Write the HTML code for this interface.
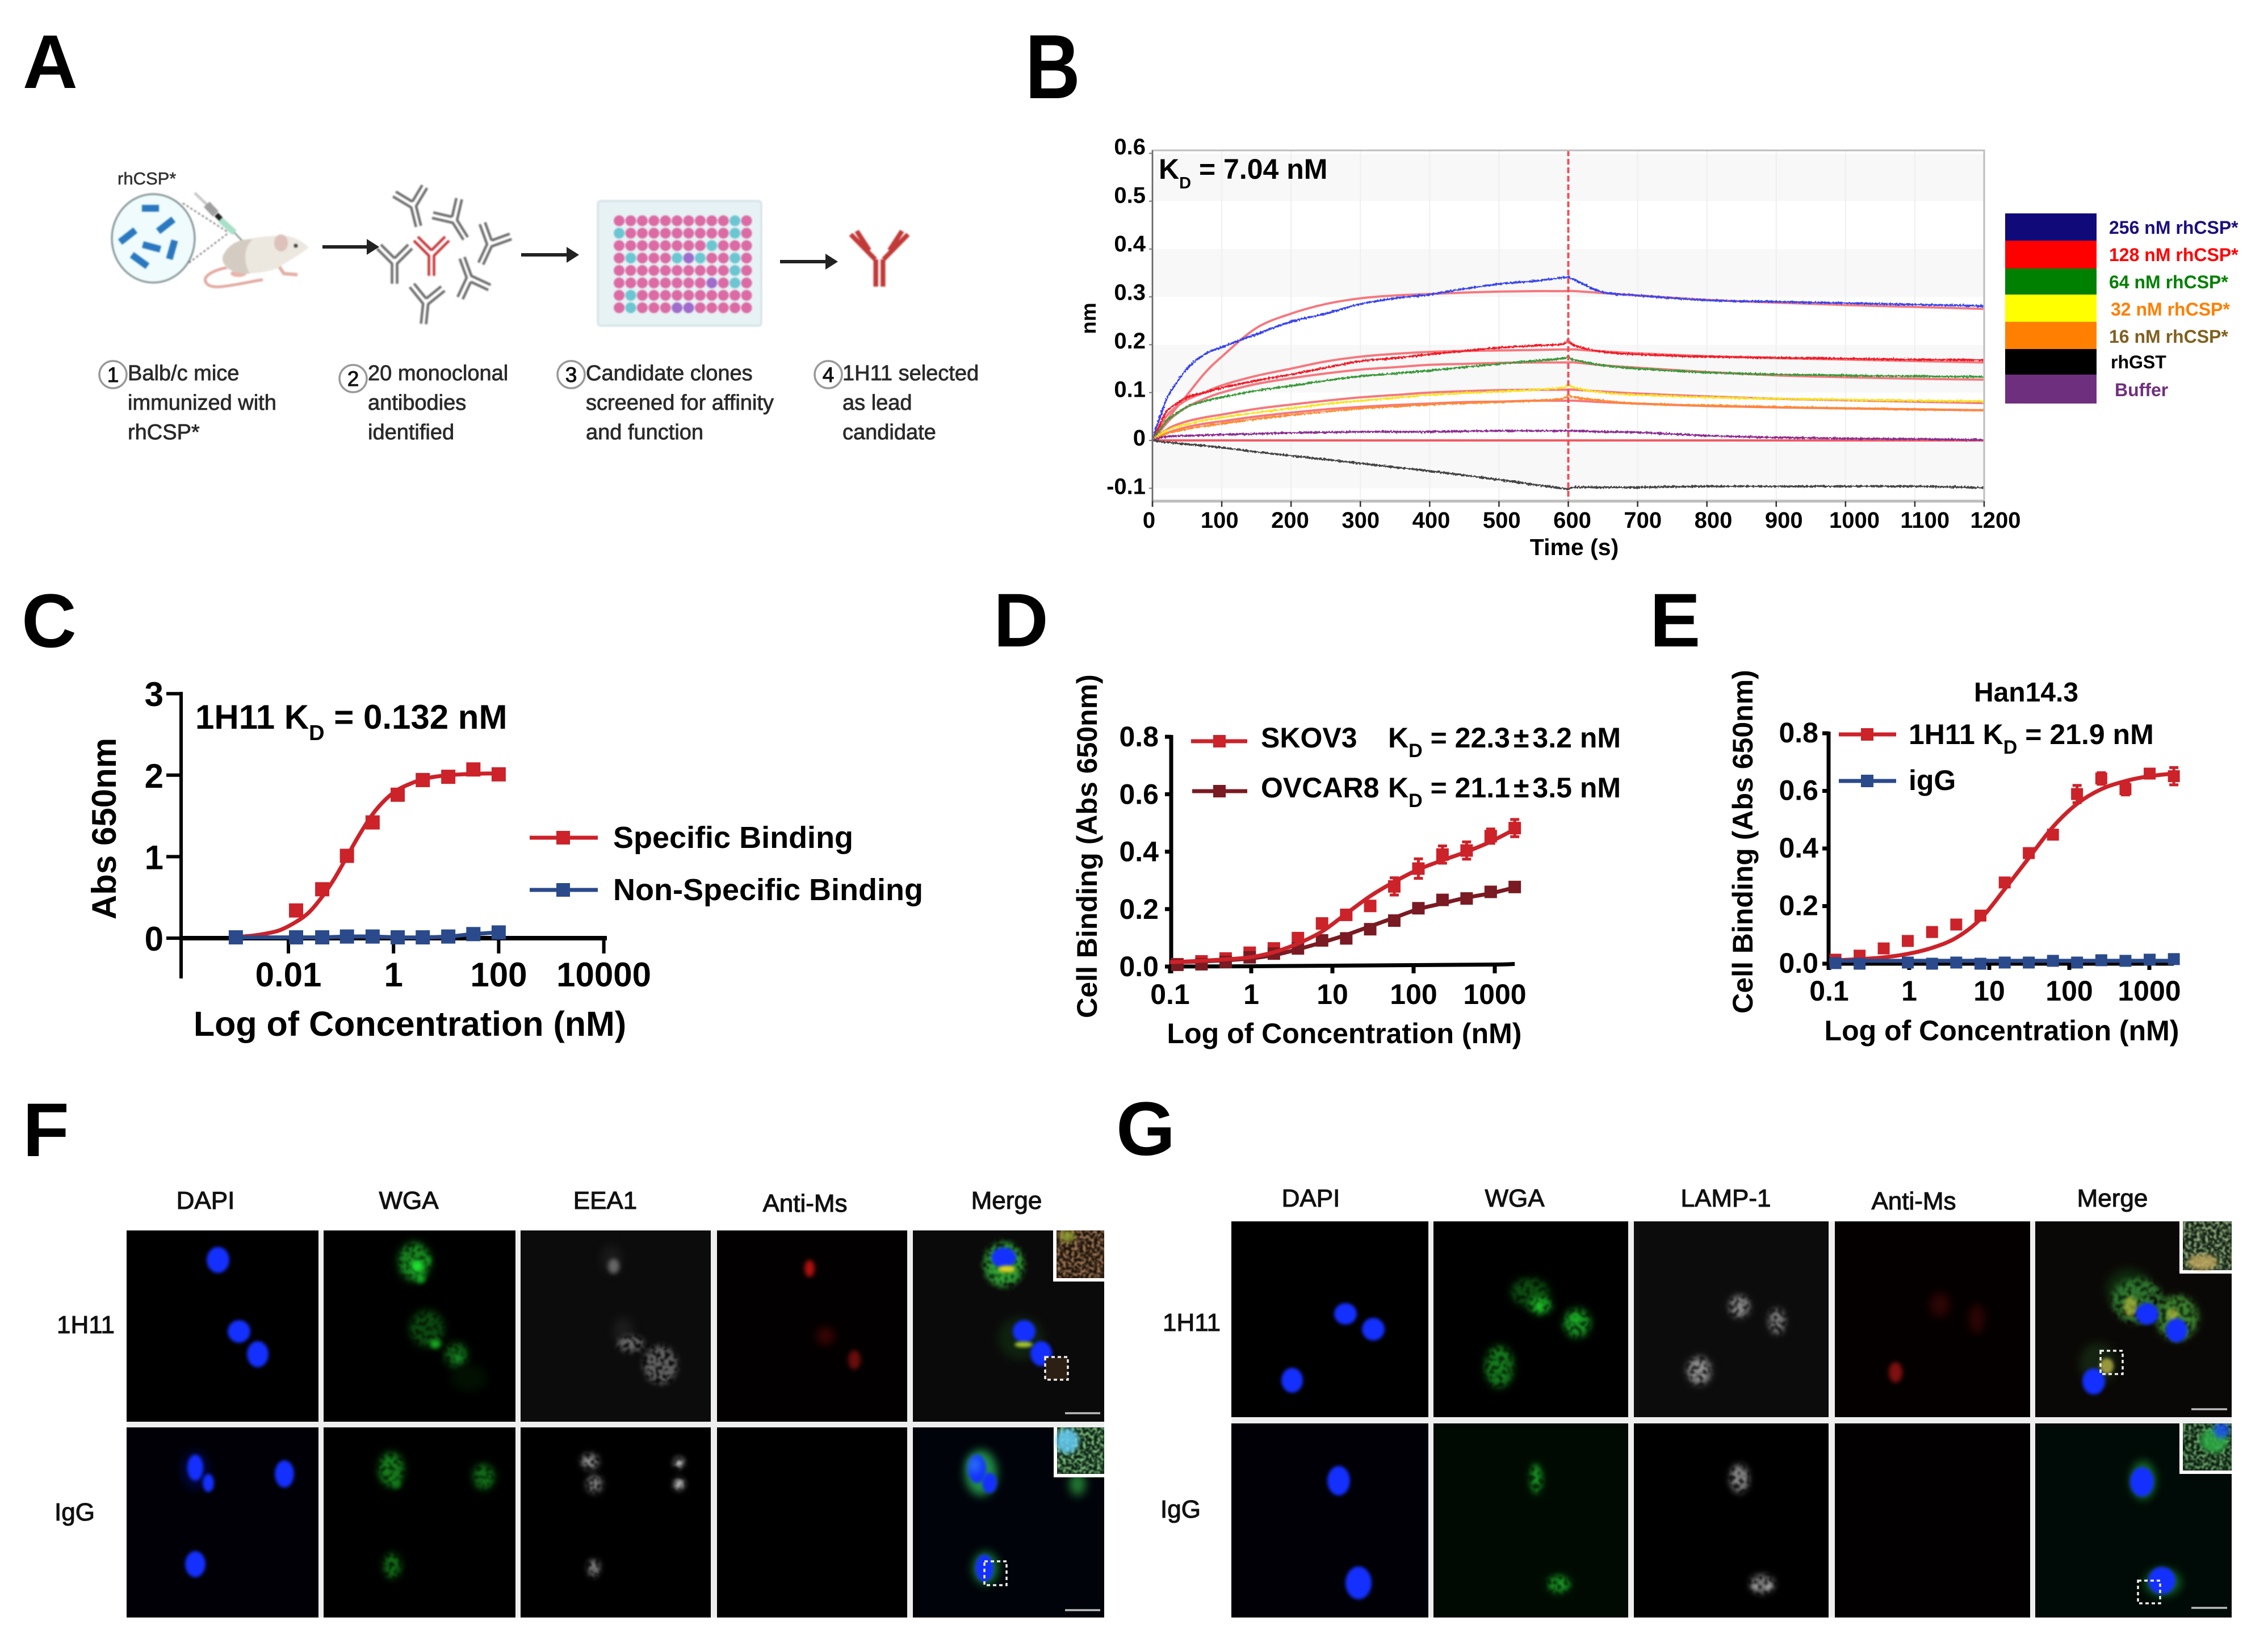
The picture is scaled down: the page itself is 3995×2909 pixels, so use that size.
<!DOCTYPE html>
<html lang="en">
<head>
<meta charset="utf-8">
<title>1H11 antibody binding figure</title>
<style>
html,body{margin:0;padding:0;background:#fff;}
svg{display:block;}
text{font-family:"Liberation Sans",sans-serif;}
.b{font-weight:700;fill:#000;}
.lt{font-size:134px;font-weight:700;fill:#000;}
.st{font-size:38px;fill:#2a2a2a;stroke:#2a2a2a;stroke-width:.8px;}
.m{font-size:44px;fill:#111;stroke:#111;stroke-width:1.1px;}
</style>
</head>
<body>
<svg id="fig" xmlns="http://www.w3.org/2000/svg" width="3995" height="2909" viewBox="0 0 3995 2909">
<defs>
<filter id="soft" x="-80%" y="-80%" width="260%" height="260%" color-interpolation-filters="sRGB"><feGaussianBlur stdDeviation="8"/></filter>
<filter id="spotblur" x="-80%" y="-80%" width="260%" height="260%" color-interpolation-filters="sRGB"><feGaussianBlur stdDeviation="4"/></filter>
<filter id="nuc" x="-50%" y="-50%" width="200%" height="200%" color-interpolation-filters="sRGB"><feGaussianBlur stdDeviation="3"/></filter>
<filter id="lowres" x="-5%" y="-5%" width="110%" height="110%" color-interpolation-filters="sRGB"><feGaussianBlur stdDeviation="1.2"/></filter>
<filter id="speck" x="-80%" y="-80%" width="260%" height="260%" color-interpolation-filters="sRGB">
<feGaussianBlur in="SourceGraphic" stdDeviation="5" result="b"/>
<feTurbulence type="fractalNoise" baseFrequency=".13" numOctaves="2" seed="7"/>
<feColorMatrix type="matrix" values="0 0 0 0 0 0 0 0 0 0 0 0 0 0 0 0 0 0 5 -1.7" result="m"/>
<feComposite in="b" in2="m" operator="in"/>
<feGaussianBlur stdDeviation="1.6"/>
</filter>
<filter id="grain" x="0" y="0" width="100%" height="100%" color-interpolation-filters="sRGB">
<feTurbulence type="fractalNoise" baseFrequency=".2" numOctaves="2" seed="4"/>
<feColorMatrix type="matrix" values="0 0 0 0 0 0 0 0 0 0 0 0 0 0 0 0 0 0 5 -2.2" result="m"/>
<feComposite in="SourceGraphic" in2="m" operator="in"/>
<feGaussianBlur stdDeviation="1.2"/>
</filter>
<filter id="jitter" filterUnits="userSpaceOnUse" x="2000" y="240" width="1540" height="680" color-interpolation-filters="sRGB">
<feTurbulence type="fractalNoise" baseFrequency=".35" numOctaves="1" seed="2" result="n"/>
<feDisplacementMap in="SourceGraphic" in2="n" scale="6" xChannelSelector="R" yChannelSelector="G"/>
</filter>
<g id="ab" fill="none" stroke-width="4.5">
<line x1="-4.5" y1="38" x2="-4.5" y2="2"/><line x1="4.5" y1="38" x2="4.5" y2="2"/>
<line x1="-4" y1="3" x2="-31" y2="-24"/><line x1="4" y1="3" x2="31" y2="-24"/>
<line x1="0" y1="-7" x2="-24" y2="-31"/><line x1="0" y1="-7" x2="24" y2="-31"/>
</g>
<g id="abLarge" fill="none" stroke-width="8" stroke-linecap="butt">
<line x1="-6" y1="52" x2="-6" y2="4"/><line x1="6" y1="52" x2="6" y2="4"/>
<line x1="-7" y1="4" x2="-48" y2="-40"/><line x1="7" y1="4" x2="48" y2="-40"/>
<line x1="-17" y1="-12" x2="-38" y2="-46"/><line x1="17" y1="-12" x2="38" y2="-46"/>
</g>
</defs>

<!-- panel letters -->
<text class="lt" x="40" y="155">A</text>
<text class="lt" transform="translate(1806,173) scale(1,1.2)">B</text>
<text class="lt" x="38" y="1140">C</text>
<text class="lt" x="1750" y="1139">D</text>
<text class="lt" x="2906" y="1139">E</text>
<text class="lt" x="40" y="2037">F</text>
<text class="lt" x="1966" y="2035">G</text>

<!-- Panel A -->
<g id="panelA">
<text x="207" y="325" font-size="31" fill="#333" stroke="#333" stroke-width=".6">rhCSP*</text>
<g filter="url(#lowres)">
<line x1="322" y1="358" x2="403" y2="410" stroke="#777" stroke-width="2.5" stroke-dasharray="4 4"/>
<line x1="333" y1="463" x2="403" y2="410" stroke="#777" stroke-width="2.5" stroke-dasharray="4 4"/>
<ellipse cx="270" cy="420" rx="73" ry="78" fill="#effbfc" stroke="#7e8e90" stroke-width="3"/>
<g fill="#2a78c0">
<rect x="250" y="361" width="30" height="12"/>
<rect x="275" y="391" width="34" height="12" transform="rotate(-38 292 397)"/>
<rect x="208" y="410" width="34" height="12" transform="rotate(-38 225 416)"/>
<rect x="251" y="429" width="32" height="12" transform="rotate(15 267 435)"/>
<rect x="286" y="434" width="34" height="12" transform="rotate(-74 303 440)"/>
<rect x="229" y="453" width="34" height="12" transform="rotate(36 246 459)"/>
</g>
<line x1="343" y1="340" x2="366" y2="362" stroke="#c8c8c8" stroke-width="5"/>
<line x1="364" y1="360" x2="380" y2="377" stroke="#9f9f9f" stroke-width="14"/>
<line x1="381" y1="378" x2="389" y2="386" stroke="#222" stroke-width="9"/>
<line x1="388" y1="387" x2="413" y2="410" stroke="#a8e0c8" stroke-width="11"/>
<line x1="413" y1="410" x2="432" y2="430" stroke="#8a9a9a" stroke-width="3"/>
<path d="M407 470 C 372 476 356 488 363 498 C 370 510 395 505 423 500 C 440 497 452 494 463 493" fill="none" stroke="#e2aaa2" stroke-width="5"/>
<ellipse cx="420" cy="482" rx="14" ry="6" fill="#e8b4a8"/>
<path d="M492 470 l8 12 l24 2" stroke="#e2b0a4" stroke-width="6" fill="none"/>
<path d="M393 450 C 405 425 440 418 480 416 C 505 412 525 418 544 436 C 530 448 510 458 490 472 C 460 484 420 484 405 476 C 395 470 390 460 393 450 Z" fill="#ece7df"/>
<path d="M393 450 C 405 425 430 420 445 422 C 425 440 432 470 440 482 C 420 484 405 476 400 470 C 393 464 390 458 393 450 Z" fill="#d4ccc2"/>
<ellipse cx="495" cy="428" rx="12" ry="15" fill="#dcc2ba"/>
<circle cx="521" cy="433" r="3.5" fill="#444"/>

<g stroke="#6e6e6e">
<use href="#ab" transform="translate(728,362) rotate(-14)"/>
<use href="#ab" transform="translate(800,388) rotate(-32)"/>
<use href="#ab" transform="translate(863,430) rotate(25)"/>
<use href="#ab" transform="translate(695,462) rotate(0)"/>
<use href="#ab" transform="translate(827,490) rotate(160)"/>
<use href="#ab" transform="translate(750,533) rotate(6)"/>
</g>
<use href="#ab" stroke="#c8383c" transform="translate(760,448)"/>
<use href="#abLarge" stroke="#c23a38" transform="translate(1549,453) scale(1.05,1)"/>

<rect x="1053" y="354" width="288" height="220" rx="5" fill="#e6f2f4" stroke="#d3e2e6" stroke-width="3"/>
<g id="wells"></g>
</g>

<g stroke="#222" stroke-width="6" fill="#222">
<line x1="568" y1="435" x2="650" y2="435"/><polygon points="646,421 668,435 646,449" stroke="none"/>
<line x1="918" y1="449" x2="1002" y2="449"/><polygon points="998,435 1020,449 998,463" stroke="none"/>
<line x1="1374" y1="461" x2="1458" y2="461"/><polygon points="1454,447 1476,461 1454,475" stroke="none"/>
</g>

<g>
<circle cx="199" cy="660" r="24" fill="#fff" stroke="#999" stroke-width="3.5"/>
<text x="199" y="673" text-anchor="middle" font-size="37" fill="#111" stroke="#111" stroke-width="1">1</text>
<text class="st" x="225" y="670">Balb/c mice</text>
<text class="st" x="225" y="722">immunized with</text>
<text class="st" x="225" y="774">rhCSP*</text>
</g>
<g>
<circle cx="622" cy="667" r="24" fill="#fff" stroke="#999" stroke-width="3.5"/>
<text x="622" y="680" text-anchor="middle" font-size="37" fill="#111" stroke="#111" stroke-width="1">2</text>
<text class="st" x="648" y="670">20 monoclonal</text>
<text class="st" x="648" y="722">antibodies</text>
<text class="st" x="648" y="774">identified</text>
</g>
<g>
<circle cx="1006" cy="660" r="24" fill="#fff" stroke="#999" stroke-width="3.5"/>
<text x="1006" y="673" text-anchor="middle" font-size="37" fill="#111" stroke="#111" stroke-width="1">3</text>
<text class="st" x="1032" y="670">Candidate clones</text>
<text class="st" x="1032" y="722">screened for affinity</text>
<text class="st" x="1032" y="774">and function</text>
</g>
<g>
<circle cx="1459" cy="660" r="24" fill="#fff" stroke="#999" stroke-width="3.5"/>
<text x="1459" y="673" text-anchor="middle" font-size="37" fill="#111" stroke="#111" stroke-width="1">4</text>
<text class="st" x="1484" y="670">1H11 selected</text>
<text class="st" x="1484" y="722">as lead</text>
<text class="st" x="1484" y="774">candidate</text>
</g>
</g>

<!-- Panel B -->
<g id="panelB">
<g id="bBack"></g>
<g id="bMarks"></g>
<g id="bAxes"></g>
<text class="b" x="2041" y="315" font-size="50">K<tspan font-size="29" dy="17">D</tspan><tspan dy="-17"> = 7.04 nM</tspan></text>
<text class="b" font-size="37" text-anchor="middle" transform="translate(1930,561) rotate(-90)">nm</text>
<text class="b" x="2773" y="978" font-size="41" text-anchor="middle">Time (s)</text>
<g>
<rect x="3532" y="376" width="161" height="48" fill="#10097a"/>
<rect x="3532" y="424" width="161" height="49" fill="#ff0000"/>
<rect x="3532" y="473" width="161" height="46" fill="#008000"/>
<rect x="3532" y="519" width="161" height="48" fill="#ffff00"/>
<rect x="3532" y="567" width="161" height="48" fill="#ff8000"/>
<rect x="3532" y="615" width="161" height="45" fill="#000000"/>
<rect x="3532" y="660" width="161" height="51" fill="#6f2f7f"/>
<text x="3715" y="412" font-size="32" font-weight="700" fill="#1a0f80">256 nM rhCSP*</text>
<text x="3715" y="460" font-size="32" font-weight="700" fill="#ff0000">128 nM rhCSP*</text>
<text x="3715" y="508" font-size="32" font-weight="700" fill="#008000">64 nM rhCSP*</text>
<text x="3718" y="556" font-size="32" font-weight="700" fill="#ff7f00">32 nM rhCSP*</text>
<text x="3715" y="604" font-size="32" font-weight="700" fill="#806020">16 nM rhCSP*</text>
<text x="3718" y="649" font-size="32" font-weight="700" fill="#000">rhGST</text>
<text x="3725" y="698" font-size="32" font-weight="700" fill="#6f2f7f">Buffer</text>
</g>
</g>

<!-- Panel C -->
<g id="panelC">
<g id="cAxes"></g>
<g id="cMarks"></g>
<text class="b" x="344" y="1284" font-size="60">1H11 K<tspan font-size="38" dy="20">D</tspan><tspan dy="-20"> = 0.132 nM</tspan></text>
<text class="b" font-size="60" text-anchor="middle" transform="translate(204,1460) rotate(-90)">Abs 650nm</text>
<text class="b" x="722" y="1825" font-size="61" text-anchor="middle">Log of Concentration (nM)</text>
<g>
<line x1="933" y1="1476" x2="1053" y2="1476" stroke="#cc2229" stroke-width="7"/>
<rect x="980" y="1464" width="24" height="24" fill="#cc2229"/>
<text class="b" x="1080" y="1494" font-size="54">Specific Binding</text>
<line x1="933" y1="1568" x2="1053" y2="1568" stroke="#2a4a8c" stroke-width="7"/>
<rect x="980" y="1556" width="24" height="24" fill="#2a4a8c"/>
<text class="b" x="1080" y="1586" font-size="54">Non-Specific Binding</text>
</g>
</g>

<!-- Panel D -->
<g id="panelD">
<g id="dAxes"></g>
<g id="dMarks"></g>
<text class="b" font-size="50" text-anchor="middle" transform="translate(1932,1491) rotate(-90)">Cell Binding (Abs 650nm)</text>
<text class="b" x="2368" y="1838" font-size="50" text-anchor="middle">Log of Concentration (nM)</text>
<g>
<line x1="2098" y1="1306" x2="2197" y2="1306" stroke="#cc2229" stroke-width="7"/>
<rect x="2137" y="1295" width="22" height="22" fill="#cc2229"/>
<text class="b" x="2221" y="1317" font-size="50">SKOV3</text>
<text class="b" x="2445" y="1317" font-size="50">K<tspan font-size="34" dy="17">D</tspan><tspan dy="-17"> = 22.3</tspan><tspan dx="6">±</tspan><tspan dx="6">3.2 nM</tspan></text>
<line x1="2100" y1="1394" x2="2197" y2="1394" stroke="#7a1a22" stroke-width="7"/>
<rect x="2137" y="1383" width="22" height="22" fill="#7a1a22"/>
<text class="b" x="2221" y="1405" font-size="50">OVCAR8</text>
<text class="b" x="2445" y="1405" font-size="50">K<tspan font-size="34" dy="17">D</tspan><tspan dy="-17"> = 21.1</tspan><tspan dx="6">±</tspan><tspan dx="6">3.5 nM</tspan></text>
</g>
</g>

<!-- Panel E -->
<g id="panelE">
<g id="eAxes"></g>
<g id="eMarks"></g>
<text class="b" x="3569" y="1236" font-size="48" text-anchor="middle">Han14.3</text>
<text class="b" font-size="50" text-anchor="middle" transform="translate(3087,1483) rotate(-90)">Cell Binding (Abs 650nm)</text>
<text class="b" x="3526" y="1833" font-size="50" text-anchor="middle">Log of Concentration (nM)</text>
<g>
<line x1="3239" y1="1294" x2="3340" y2="1294" stroke="#cc2229" stroke-width="7"/>
<rect x="3278" y="1283" width="22" height="22" fill="#cc2229"/>
<text class="b" x="3362" y="1311" font-size="50">1H11 K<tspan font-size="34" dy="17">D</tspan><tspan dy="-17"> = 21.9 nM</tspan></text>
<line x1="3239" y1="1376" x2="3340" y2="1376" stroke="#2a4a8c" stroke-width="7"/>
<rect x="3278" y="1365" width="22" height="22" fill="#2a4a8c"/>
<text class="b" x="3362" y="1392" font-size="50">igG</text>
</g>
</g>

<!-- Panel F labels -->
<g>
<text class="m" x="362" y="2130" text-anchor="middle">DAPI</text>
<text class="m" x="720" y="2130" text-anchor="middle">WGA</text>
<text class="m" x="1066" y="2130" text-anchor="middle">EEA1</text>
<text class="m" x="1418" y="2135" text-anchor="middle">Anti-Ms</text>
<text class="m" x="1773" y="2130" text-anchor="middle">Merge</text>
<text class="m" x="100" y="2349">1H11</text>
<text class="m" x="96" y="2679">IgG</text>
</g>
<g id="panelF"></g>

<!-- Panel G labels -->
<g>
<text class="m" x="2309" y="2126" text-anchor="middle">DAPI</text>
<text class="m" x="2668" y="2126" text-anchor="middle">WGA</text>
<text class="m" x="3040" y="2126" text-anchor="middle">LAMP-1</text>
<text class="m" x="3371" y="2131" text-anchor="middle">Anti-Ms</text>
<text class="m" x="3721" y="2126" text-anchor="middle">Merge</text>
<text class="m" x="2048" y="2345">1H11</text>
<text class="m" x="2044" y="2674">IgG</text>
</g>
<g id="panelG"></g>
</svg>

<script>
/* ---------- Panel B data ---------- */
const timesB = [0,5,10,20,30,50,75,100,150,200,250,300,350,400,450,500,550,590,600,610,650,700,800,900,1000,1100,1200];
const obs256 = [0,.025,.045,.085,.11,.15,.18,.195,.222,.248,.265,.285,.297,.305,.317,.327,.333,.34,.342,.335,.31,.303,.293,.29,.287,.284,.281];
const fit256 = [0,.01,.02,.04,.06,.095,.14,.175,.235,.265,.285,.297,.303,.306,.309,.311,.312,.312,.312,.312,.308,.303,.294,.288,.283,.279,.275];
const obs128 = [0,.015,.03,.06,.072,.09,.1,.11,.125,.138,.152,.166,.172,.18,.187,.194,.198,.201,.21,.198,.185,.18,.175,.173,.171,.169,.168];
const fit128 = [0,.012,.025,.05,.065,.085,.1,.115,.135,.15,.165,.175,.181,.185,.187,.188,.189,.19,.19,.19,.186,.182,.176,.172,.169,.166,.163];
const obs64 = [0,.01,.02,.04,.052,.07,.082,.09,.104,.114,.125,.134,.14,.146,.153,.16,.166,.171,.175,.168,.157,.15,.142,.138,.136,.134,.133];
const fit64 = [0,.01,.018,.035,.05,.07,.087,.1,.118,.13,.14,.148,.153,.158,.16,.162,.163,.163,.163,.163,.157,.152,.143,.136,.132,.129,.127];
const obs32 = [0,.006,.012,.02,.026,.034,.042,.048,.058,.067,.076,.083,.089,.095,.099,.102,.106,.11,.117,.11,.1,.095,.09,.087,.085,.083,.082];
const fit32 = [0,.006,.012,.022,.03,.04,.048,.054,.066,.075,.083,.09,.095,.1,.103,.105,.106,.106,.106,.106,.102,.098,.092,.087,.084,.081,.078];
const obs16 = [0,.004,.008,.014,.018,.024,.03,.035,.045,.053,.06,.067,.071,.075,.078,.08,.083,.087,.095,.09,.083,.077,.073,.07,.067,.065,.063];
const fit16 = [0,.004,.008,.015,.02,.028,.035,.04,.05,.058,.065,.07,.074,.077,.08,.081,.083,.083,.083,.083,.08,.077,.072,.069,.067,.065,.063];
const obsBuffer = [0,.003,.005,.008,.009,.01,.011,.012,.014,.016,.017,.018,.018,.018,.019,.02,.02,.02,.02,.02,.018,.017,.01,.006,.004,.003,.001];
const fitBuffer = [0,0,0,0,0,0,0,0,0,0,0,0,0,0,0,0,0,0,0,0,0,0,0,0,0,0,0];
const obsGst = [0,-.001,-.002,-.004,-.005,-.008,-.011,-.015,-.024,-.032,-.04,-.048,-.056,-.064,-.073,-.082,-.092,-.1,-.102,-.098,-.098,-.098,-.096,-.096,-.096,-.096,-.099];
const xTicksB = [0,100,200,300,400,500,600,700,800,900,1000,1100,1200];
const yTicksB = [-0.1,0,0.1,0.2,0.3,0.4,0.5,0.6];

/* ---------- Panel C data ---------- */
const concSpecificC = [.014,.044,.13,.4,1.2,3.6,11,33,100];
const valSpecificC = [.34,.6,1.01,1.42,1.76,1.94,1.98,2.07,2.01];
const concNonSpecC = [.001,.014,.044,.13,.4,1.2,3.6,11,33,100];
const valNonSpecC = [.01,.01,.01,.02,.02,.01,.01,.02,.05,.07];
const concFitC = [.001,.002,.004,.007,.014,.025,.044,.075,.13,.22,.4,.7,1.2,2,3.6,6,11,20,33,60,100];
const valFitC = [.015,.03,.06,.1,.2,.32,.51,.73,1,1.26,1.52,1.7,1.82,1.89,1.95,1.98,2,2.01,2.015,2.02,2.02];
const xTicksC = [.01,1,100,10000];
const xLabelsC = ['0.01','1','100','10000'];
const yTicksC = [0,1,2,3];

/* ---------- Panel D data ---------- */
const concD = [.123,.244,.484,.957,1.9,3.76,7.45,14.8,29.2,57.8,114.6,227,450,891,1762];
const skov3 = [.008,.018,.028,.048,.063,.099,.15,.18,.211,.279,.341,.39,.404,.454,.482];
const skov3Err = [.005,.005,.008,.008,.01,.01,.015,.015,.012,.03,.034,.03,.03,.025,.03];
const ovcar8 = [.006,.008,.016,.032,.045,.063,.091,.098,.13,.16,.203,.232,.237,.26,.277];
const ovcar8Err = [.005,.004,.005,.006,.006,.008,.01,.01,.01,.015,.01,.008,.01,.01,.012];
const concFitD = [.1,.123,.244,.484,.957,1.9,3.76,7.45,14.8,29.2,57.8,114.6,227,450,891,1762];
const skov3Fit = [.015,.016,.02,.025,.032,.05,.08,.122,.184,.245,.295,.338,.37,.4,.435,.478];
const ovcar8Fit = [.015,.015,.018,.022,.028,.04,.06,.084,.11,.14,.17,.2,.22,.24,.255,.275];
const concBlankD = [.1,1,10,100,1000,1762];
const blankD = [0,.001,.003,.005,.007,.009];
const xTicksD = [.1,1,10,100,1000];
const xLabelsD = ['0.1','1','10','100','1000'];
const yTicksD = [0,.2,.4,.6,.8];
const yLabelsD = ['0.0','0.2','0.4','0.6','0.8'];

/* ---------- Panel E data ---------- */
const concE = [.12,.24,.48,.96,1.93,3.87,7.76,15.6,31.2,62.5,125,251,503,1009,2023];
const h1h11 = [.014,.028,.053,.079,.11,.136,.167,.282,.384,.448,.589,.643,.606,.66,.651];
const h1h11Err = [.005,.005,.005,.005,.005,.005,.005,.01,.012,.015,.03,.02,.02,.012,.03];
const concFitE = [.1,.12,.24,.48,.96,1.93,3.87,7.76,15.6,31.2,62.5,125,251,503,1009,2023];
const h1h11Fit = [.012,.012,.016,.022,.034,.055,.09,.155,.259,.367,.475,.555,.606,.634,.651,.66];
const concIgg = [.12,.24,.96,1.93,3.87,7.76,15.6,31.2,62.5,125,251,503,1009,2023];
const igg = [.002,0,.004,0,.004,0,.004,.004,.01,.004,.012,.01,.014,.016];
const concIggFit = [.1,1,10,100,1000,2023];
const iggFit = [.01,.01,.01,.01,.01,.01];
const concBlankE = [.1,1,10,100,1000,2023];
const blankE = [0,0,0,0,0,0];
const xTicksE = [.1,1,10,100,1000];
const xLabelsE = ['0.1','1','10','100','1000'];
const yTicksE = [0,.2,.4,.6,.8];
const yLabelsE = ['0.0','0.2','0.4','0.6','0.8'];

/* ---------- Axis functions ---------- */
const xB = t => 2030 + t * 1465 / 1200;
const xLblB = t => 2024 + t * 1491 / 1200;
const yB = v => 776 - v * 843;
const yLblB = v => 785 - v * 855;
const xC = c => 508 + (Math.log10(c) + 2) * 92.6;
const yC = v => 1653 - v * 143.6;
const xD = c => 2204 + Math.log10(c) * 143;
const yD = v => 1703 - v * 506;
const xE = c => 3363 + Math.log10(c) * 141;
const yE = v => 1698 - v * 507.5;

/* ---------- Helpers ---------- */
const NS = 'http://www.w3.org/2000/svg';
function make(parent, tag, attrs, name, text) {
  const n = document.createElementNS(NS, tag);
  for (const k in attrs) n.setAttribute(k, attrs[k]);
  
  
  if (text !== undefined) n.textContent = text;
  parent.appendChild(n);
  return n;
}
function line(p, x1, y1, x2, y2, stroke, w, name) {
  return make(p, 'line', {x1, y1, x2, y2, stroke, 'stroke-width': w}, name);
}
function smoothPath(xs, ys) {
  let d = 'M' + xs[0].toFixed(1) + ' ' + ys[0].toFixed(1);
  for (let i = 0; i < xs.length - 1; i++) {
    const i0 = Math.max(i - 1, 0), i3 = Math.min(i + 2, xs.length - 1);
    const c1x = xs[i] + (xs[i + 1] - xs[i0]) / 6, c1y = ys[i] + (ys[i + 1] - ys[i0]) / 6;
    const c2x = xs[i + 1] - (xs[i3] - xs[i]) / 6, c2y = ys[i + 1] - (ys[i3] - ys[i]) / 6;
    d += ' C' + c1x.toFixed(1) + ' ' + c1y.toFixed(1) + ' ' + c2x.toFixed(1) + ' ' + c2y.toFixed(1) + ' ' + xs[i + 1].toFixed(1) + ' ' + ys[i + 1].toFixed(1);
  }
  return d;
}
function sensorPath(vals) {
  const split = timesB.indexOf(600);
  const a = smoothPath(timesB.slice(0, split + 1).map(xB), vals.slice(0, split + 1).map(yB));
  const b = smoothPath(timesB.slice(split).map(xB), vals.slice(split).map(yB));
  return a + ' ' + b;
}
function curve(p, concs, vals, fx, fy, color, w, name) {
  return make(p, 'path', {d: smoothPath(concs.map(fx), vals.map(fy)), fill: 'none', stroke: color, 'stroke-width': w}, name);
}
function markers(p, concs, vals, errs, fx, fy, color, size, name) {
  concs.forEach((c, i) => {
    const x = fx(c), y = fy(vals[i]);
    if (errs && errs[i]) {
      const top = fy(vals[i] + errs[i]), bot = fy(vals[i] - errs[i]);
      line(p, x, top, x, bot, color, 5, name + '-error-bar');
      line(p, x - 8, top, x + 8, top, color, 5, name + '-error-cap');
      line(p, x - 8, bot, x + 8, bot, color, 5, name + '-error-cap');
    }
    make(p, 'rect', {x: x - size / 2, y: y - size / 2, width: size, height: size, fill: color}, name + '-point');
  });
}

/* ---------- Panel A wells ---------- */
(function () {
  const g = document.getElementById('wells');
  const cyan = {'10,0':1,'0,1':1,'10,1':1,'8,2':1,'1,3':1,'5,3':1,'7,3':1,'10,3':1,'10,4':1,'10,5':1,'1,6':1,'1,7':1};
  const purple = {'6,3':1,'8,5':1,'5,7':1,'6,7':1};
  for (let r = 0; r < 8; r++) {
    for (let c = 0; c < 12; c++) {
      const key = c + ',' + r;
      const fill = purple[key] ? '#a06ccc' : (cyan[key] ? '#6cc6d2' : '#dc6aa4');
      make(g, 'circle', {cx: 1090.6 + c * 20.4, cy: 389 + r * 21.9, r: 9.5, fill}, 'plate-well');
    }
  }
})();

/* ---------- Panel B ---------- */
(function () {
  const back = document.getElementById('bBack');
  const marks = document.getElementById('bMarks');
  const axes = document.getElementById('bAxes');
  make(back, 'rect', {x: 2030, y: 265, width: 1465, height: 618, fill: '#fff'}, 'plot-area');
  make(back, 'rect', {x: 2030, y: 271, width: 1465, height: yB(.5) - 271, fill: '#f8f8f8'}, 'plot-band');
  make(back, 'rect', {x: 2030, y: yB(.4), width: 1465, height: yB(.3) - yB(.4), fill: '#f8f8f8'}, 'plot-band');
  make(back, 'rect', {x: 2030, y: yB(.2), width: 1465, height: yB(.1) - yB(.2), fill: '#f8f8f8'}, 'plot-band');
  make(back, 'rect', {x: 2030, y: yB(0), width: 1465, height: yB(-.1) - yB(0), fill: '#f8f8f8'}, 'plot-band');
  xTicksB.forEach(t => line(back, xB(t), 265, xB(t), 883, '#efefef', 2, 'vertical-gridline'));

  const fits = [[fit256, 'fit-256nm'], [fit128, 'fit-128nm'], [fit64, 'fit-64nm'], [fit32, 'fit-32nm'], [fit16, 'fit-16nm']];
  const traces = [[obs256, '#3a46ee', 'trace-256nm'], [obs128, '#f01c28', 'trace-128nm'], [obs64, '#3b9a3b', 'trace-64nm'],
    [obs32, '#f5e526', 'trace-32nm'], [obs16, '#ff8a30', 'trace-16nm'], [obsBuffer, '#8a2f90', 'trace-buffer'], [obsGst, '#444444', 'trace-rhgst']];
  fits.forEach(s => make(marks, 'path', {d: sensorPath(s[0]), fill: 'none', stroke: '#f5787e', 'stroke-width': 4}, s[1]));
  make(marks, 'path', {d: sensorPath(fitBuffer), fill: 'none', stroke: '#f25a64', 'stroke-width': 4}, 'fit-baseline');
  traces.forEach(s => make(marks, 'path', {d: sensorPath(s[0]), fill: 'none', stroke: s[1], 'stroke-width': 3.5, filter: 'url(#jitter)'}, s[2]));
  make(marks, 'line', {x1: xB(600), y1: 265, x2: xB(600), y2: 883, stroke: '#f0505a', 'stroke-width': 4, 'stroke-dasharray': '10 5'}, 'association-dissociation-divider');

  make(axes, 'rect', {x: 2030, y: 265, width: 1465, height: 618, fill: 'none', stroke: '#bdbdbd', 'stroke-width': 3}, 'plot-border');
  line(axes, 2030, 883, 3495, 883, '#bdbdbd', 5, 'x-axis-line');
  line(axes, 2030, 265, 2030, 893, '#666', 2.5, 'y-axis-line');
  xTicksB.forEach(t => {
    line(axes, xB(t), 883, xB(t), 893, '#333', 2.5, 'x-tick');
    make(axes, 'text', {x: xLblB(t), y: 930, 'text-anchor': 'middle', 'font-size': 40, 'font-weight': 700, fill: '#000'}, 'x-tick-label', String(t));
  });
  yTicksB.forEach(v => {
    line(axes, 2024, yB(v), 2030, yB(v), '#777', 2, 'y-tick');
    make(axes, 'text', {x: 2018, y: yLblB(v), 'text-anchor': 'end', 'font-size': 40, 'font-weight': 700, fill: '#000'}, 'y-tick-label', String(v));
  });
})();

/* ---------- Panel C ---------- */
(function () {
  const axes = document.getElementById('cAxes');
  const marks = document.getElementById('cMarks');
  line(axes, 319, 1219, 319, 1724, '#000', 6, 'y-axis-line');
  line(axes, 319, yC(0), 1069, yC(0), '#000', 8, 'x-axis-line');
  yTicksC.forEach(v => {
    line(axes, 293, yC(v), 319, yC(v), '#000', 6, 'y-tick');
    make(axes, 'text', {x: 288, y: yC(v) + 22, 'text-anchor': 'end', 'font-size': 60, 'font-weight': 700, fill: '#000'}, 'y-tick-label', String(v));
  });
  xTicksC.forEach((c, i) => {
    line(axes, xC(c), yC(0), xC(c), 1680, '#000', 6, 'x-tick');
    make(axes, 'text', {x: xC(c), y: 1738, 'text-anchor': 'middle', 'font-size': 60, 'font-weight': 700, fill: '#000'}, 'x-tick-label', xLabelsC[i]);
  });
  curve(marks, concFitC, valFitC, xC, yC, '#cc2229', 7, 'specific-binding-fit');
  markers(marks, concSpecificC, valSpecificC, null, xC, yC, '#cc2229', 25, 'specific-binding');
  curve(marks, concNonSpecC, valNonSpecC, xC, yC, '#2a4a8c', 7, 'non-specific-binding-fit');
  markers(marks, concNonSpecC, valNonSpecC, null, xC, yC, '#2a4a8c', 25, 'non-specific-binding');
})();

/* ---------- Panel D ---------- */
(function () {
  const axes = document.getElementById('dAxes');
  const marks = document.getElementById('dMarks');
  line(axes, 2063, 1295, 2063, 1715, '#000', 7, 'y-axis-line');
  yTicksD.forEach((v, i) => {
    line(axes, 2052, yD(v), 2063, yD(v), '#000', 7, 'y-tick');
    make(axes, 'text', {x: 2041, y: yD(v) + 17, 'text-anchor': 'end', 'font-size': 50, 'font-weight': 700, fill: '#000'}, 'y-tick-label', yLabelsD[i]);
  });
  xTicksD.forEach((c, i) => {
    line(axes, xD(c), yD(0), xD(c), 1715, '#000', 7, 'x-tick');
    make(axes, 'text', {x: xD(c), y: 1769, 'text-anchor': 'middle', 'font-size': 50, 'font-weight': 700, fill: '#000'}, 'x-tick-label', xLabelsD[i]);
  });
  curve(axes, concBlankD, blankD, xD, yD, '#000', 7, 'blank-baseline');
  markers(marks, concD, skov3, skov3Err, xD, yD, '#cc2229', 22, 'skov3');
  markers(marks, concD, ovcar8, ovcar8Err, xD, yD, '#7a1a22', 22, 'ovcar8');
  curve(marks, concFitD, ovcar8Fit, xD, yD, '#7a1a22', 7, 'ovcar8-fit');
  curve(marks, concFitD, skov3Fit, xD, yD, '#cc2229', 7, 'skov3-fit');
})();

/* ---------- Panel E ---------- */
(function () {
  const axes = document.getElementById('eAxes');
  const marks = document.getElementById('eMarks');
  line(axes, 3221, 1289, 3221, 1709, '#000', 7, 'y-axis-line');
  yTicksE.forEach((v, i) => {
    line(axes, 3210, yE(v), 3221, yE(v), '#000', 7, 'y-tick');
    make(axes, 'text', {x: 3203, y: yE(v) + 16, 'text-anchor': 'end', 'font-size': 50, 'font-weight': 700, fill: '#000'}, 'y-tick-label', yLabelsE[i]);
  });
  xTicksE.forEach((c, i) => {
    line(axes, xE(c), yE(0), xE(c), 1709, '#000', 7, 'x-tick');
    make(axes, 'text', {x: xE(c), y: 1763, 'text-anchor': 'middle', 'font-size': 50, 'font-weight': 700, fill: '#000'}, 'x-tick-label', xLabelsE[i]);
  });
  curve(axes, concBlankE, blankE, xE, yE, '#000', 7, 'blank-baseline');
  markers(marks, concE, h1h11, h1h11Err, xE, yE, '#cc2229', 21, 'h1h11');
  curve(marks, concFitE, h1h11Fit, xE, yE, '#cc2229', 7, 'h1h11-fit');
  curve(marks, concIggFit, iggFit, xE, yE, '#2a4a8c', 7, 'igg-fit');
  markers(marks, concIgg, igg, null, xE, yE, '#2a4a8c', 21, 'igg');
})();

/* ---------- Microscopy helpers ---------- */
function panel(parent, name, x, y, w, h, bg) {
  const s = make(parent, 'svg', {x, y, width: w, height: h, viewBox: '0 0 ' + w + ' ' + h}, name);
  make(s, 'rect', {x: 0, y: 0, width: w, height: h, fill: bg}, name + '-background');
  return s;
}
function signal(p, cx, cy, rx, ry, color, op) {
  return make(p, 'ellipse', {cx, cy, rx, ry, fill: color, opacity: op, filter: 'url(#speck)'}, 'punctate-signal');
}
function glow(p, cx, cy, rx, ry, color, op) {
  return make(p, 'ellipse', {cx, cy, rx, ry, fill: color, opacity: op, filter: 'url(#soft)'}, 'diffuse-signal');
}
function spot(p, cx, cy, rx, ry, color, op) {
  return make(p, 'ellipse', {cx, cy, rx, ry, fill: color, opacity: op, filter: 'url(#spotblur)'}, 'bright-spot');
}
function cell(p, cx, cy, rx, ry, base, spk, op) {
  glow(p, cx, cy, rx * .9, ry * .9, base, .9);
  signal(p, cx, cy, rx * .8, ry * .8, spk, op);
}
function nucleus(p, cx, cy, rx, ry) {
  return make(p, 'ellipse', {cx, cy, rx, ry, fill: '#1430ff', filter: 'url(#nuc)'}, 'nucleus');
}
function scaleBar(p, x1, x2, y) {
  return line(p, x1, y, x2, y, '#bbbbbb', 3.5, 'scale-bar');
}
function box(p, x1, y1, x2, y2) {
  return make(p, 'rect', {x: x1, y: y1, width: x2 - x1, height: y2 - y1, fill: 'none', stroke: '#eee', 'stroke-width': 3.5, 'stroke-dasharray': '6 5'}, 'zoom-region-box');
}
function inset(p, x, w, h, base, speckle) {
  make(p, 'rect', {x, y: 0, width: w - x, height: h, fill: '#fff'}, 'inset-border');
  make(p, 'rect', {x: x + 6, y: 0, width: w - x - 6, height: h - 6, fill: base}, 'inset-image');
  make(p, 'rect', {x: x + 6, y: 0, width: w - x - 6, height: h - 6, fill: speckle, filter: 'url(#grain)'}, 'inset-speckle');
}
function insetGlow(p, cx, cy, rx, ry, color) {
  make(p, 'ellipse', {cx, cy, rx, ry, fill: color, filter: 'url(#spotblur)', opacity: .85}, 'inset-glow');
}

/* ---------- Panel F ---------- */
(function () {
  const g = document.getElementById('panelF');
  make(g, 'rect', {x: 223, y: 2168, width: 1722, height: 682, fill: '#eee'}, 'microscopy-grid-gaps');
  const X = [223, 570, 917, 1263, 1608], W = [338, 338, 335, 335, 337], Y = [2168, 2515], H = [337, 335];

  let p = panel(g, 'f-1h11-dapi', X[0], Y[0], W[0], H[0], '#000');
  nucleus(p, 161, 52, 20, 23); nucleus(p, 198, 178, 20, 20); nucleus(p, 231, 218, 19, 23);

  p = panel(g, 'f-1h11-wga', X[1], Y[0], W[1], H[0], '#000');
  cell(p, 160, 55, 33, 40, '#0a400e', '#1c9a26', .8);
  spot(p, 165, 63, 10, 10, '#20e030', 1); spot(p, 171, 85, 8, 8, '#18b826', .9); spot(p, 184, 53, 5, 7, '#18a824', .9);
  cell(p, 182, 173, 36, 38, '#062206', '#0e5a14', .7);
  spot(p, 197, 200, 10, 8, '#18b020', .95);
  cell(p, 234, 220, 24, 26, '#083008', '#12681a', .8);
  spot(p, 238, 225, 7, 8, '#18902a', .9);
  glow(p, 256, 260, 32, 24, '#031203', .9);

  p = panel(g, 'f-1h11-eea1', X[2], Y[0], W[2], H[0], '#0c0c0c');
  glow(p, 160, 50, 18, 24, '#1c1c1c', .9);
  spot(p, 164, 63, 10, 13, '#707070', .9);
  glow(p, 181, 177, 18, 24, '#1e1e1e', .9);
  signal(p, 194, 200, 24, 14, '#707070', .9);
  signal(p, 246, 237, 30, 34, '#6a6a6a', .9);

  p = panel(g, 'f-1h11-anti-ms', X[3], Y[0], W[3], H[0], '#020000');
  spot(p, 163, 67, 9, 15, '#b01010', 1);
  glow(p, 191, 186, 16, 16, '#3c0606', .95);
  spot(p, 242, 228, 11, 17, '#6a0c0c', 1);

  p = panel(g, 'f-1h11-merge', X[4], Y[0], W[4], H[0], '#0a0a0a');
  glow(p, 160, 60, 28, 32, '#16701c', .9);
  signal(p, 160, 60, 36, 40, '#38b03c', .8);
  glow(p, 190, 190, 40, 38, '#102810', .8);
  nucleus(p, 160, 48, 22, 18);
  make(p, 'ellipse', {cx: 165, cy: 68, rx: 15, ry: 6, fill: '#e0d020', filter: 'url(#nuc)'}, 'colocalized-signal');
  nucleus(p, 196, 178, 20, 20); nucleus(p, 226, 217, 19, 22);
  make(p, 'ellipse', {cx: 195, cy: 201, rx: 16, ry: 5, fill: '#a8c830', filter: 'url(#nuc)'}, 'colocalized-signal');
  make(p, 'rect', {x: 233, y: 223, width: 40, height: 40, fill: '#2c2014'}, 'zoom-region-fill');
  box(p, 233, 223, 273, 263);
  inset(p, 247, 337, 90, '#1c1208', '#a07858');
  insetGlow(p, 272, 10, 14, 10, '#90a030');
  scaleBar(p, 268, 330, 322);

  p = panel(g, 'f-igg-dapi', X[0], Y[1], W[0], H[1], '#000006');
  glow(p, 121, 75, 24, 34, '#000c60', .6);
  nucleus(p, 121, 71, 14, 23); nucleus(p, 144, 98, 10, 16); nucleus(p, 278, 82, 17, 24); nucleus(p, 121, 241, 18, 23);

  p = panel(g, 'f-igg-wga', X[1], Y[1], W[1], H[1], '#000');
  cell(p, 119, 74, 26, 36, '#073a0a', '#1a8a20', .8);
  spot(p, 128, 100, 8, 8, '#149020', .8);
  cell(p, 282, 87, 22, 26, '#073a0a', '#14781c', .8);
  cell(p, 121, 244, 18, 26, '#063006', '#157a1c', .8);

  p = panel(g, 'f-igg-eea1', X[2], Y[1], W[2], H[1], '#000');
  cell(p, 122, 60, 18, 16, '#282828', '#9a9a9a', .9);
  cell(p, 130, 100, 16, 18, '#282828', '#8a8a8a', .9);
  cell(p, 279, 62, 10, 10, '#303030', '#b8b8b8', 1);
  spot(p, 279, 62, 4, 4, '#e0e0e0', 1);
  cell(p, 279, 100, 10, 12, '#303030', '#b8b8b8', 1);
  spot(p, 279, 100, 4, 5, '#e0e0e0', 1);
  cell(p, 129, 248, 11, 18, '#282828', '#a0a0a0', .9);

  p = panel(g, 'f-igg-anti-ms', X[3], Y[1], W[3], H[1], '#000');

  p = panel(g, 'f-igg-merge', X[4], Y[1], W[4], H[1], '#00040a');
  glow(p, 120, 80, 28, 40, '#28a050', .9);
  glow(p, 290, 100, 14, 20, '#288a38', .9);
  glow(p, 128, 248, 22, 28, '#1c8a38', .9);
  nucleus(p, 113, 73, 16, 25); nucleus(p, 135, 98, 13, 18); nucleus(p, 126, 248, 16, 24);
  glow(p, 108, 66, 10, 14, '#40c0e0', .55);
  box(p, 126, 236, 165, 278);
  inset(p, 248, 337, 88, '#081e10', '#80c080');
  insetGlow(p, 272, 24, 20, 22, '#68d0f8');
  scaleBar(p, 268, 330, 322);
})();

/* ---------- Panel G ---------- */
(function () {
  const g = document.getElementById('panelG');
  make(g, 'rect', {x: 2169, y: 2152, width: 1762, height: 698, fill: '#eee'}, 'microscopy-grid-gaps');
  const X = [2169, 2525, 2878, 3232, 3585], W = [347, 343, 343, 344, 346], Y = [2152, 2508], H = [345, 342];

  let p = panel(g, 'g-1h11-dapi', X[0], Y[0], W[0], H[0], '#000');
  nucleus(p, 201, 163, 20, 19); nucleus(p, 250, 190, 20, 20); nucleus(p, 107, 280, 19, 22);

  p = panel(g, 'g-1h11-wga', X[1], Y[0], W[1], H[0], '#000');
  cell(p, 170, 125, 40, 30, '#052206', '#126a18', .6);
  cell(p, 188, 147, 24, 20, '#0a400e', '#1aa024', .9);
  spot(p, 186, 150, 7, 8, '#20c02a', .9);
  cell(p, 253, 179, 28, 30, '#0a400e', '#189624', .9);
  spot(p, 250, 172, 7, 8, '#20c02a', .8);
  cell(p, 116, 256, 30, 44, '#083008', '#168020', .9);

  p = panel(g, 'g-1h11-lamp1', X[2], Y[0], W[2], H[0], '#0c0c0c');
  cell(p, 186, 150, 22, 24, '#262626', '#909090', .9);
  cell(p, 252, 176, 18, 28, '#222222', '#808080', .9);
  cell(p, 115, 263, 26, 30, '#282828', '#989898', .9);

  p = panel(g, 'g-1h11-anti-ms', X[3], Y[0], W[3], H[0], '#040000');
  glow(p, 185, 147, 18, 22, '#300606', .95);
  glow(p, 250, 172, 14, 26, '#300606', .95);
  spot(p, 107, 266, 12, 18, '#801010', 1);

  p = panel(g, 'g-1h11-merge', X[4], Y[0], W[4], H[0], '#0a0806');
  glow(p, 165, 120, 40, 36, '#103410', .8); signal(p, 180, 140, 46, 40, '#388a38', .8);
  glow(p, 250, 170, 38, 38, '#183a14', .8); signal(p, 250, 170, 36, 40, '#449034', .85);
  glow(p, 110, 250, 32, 36, '#182c14', .8);
  make(p, 'ellipse', {cx: 168, cy: 150, rx: 12, ry: 18, fill: '#c8c840', filter: 'url(#nuc)', opacity: .6}, 'colocalized-signal');
  make(p, 'ellipse', {cx: 242, cy: 165, rx: 10, ry: 12, fill: '#c8c840', filter: 'url(#nuc)', opacity: .6}, 'colocalized-signal');
  make(p, 'ellipse', {cx: 126, cy: 255, rx: 12, ry: 14, fill: '#d0c850', filter: 'url(#nuc)', opacity: .7}, 'colocalized-signal');
  nucleus(p, 197, 163, 20, 19); nucleus(p, 249, 192, 19, 21); nucleus(p, 103, 282, 20, 23);
  box(p, 115, 228, 154, 269);
  inset(p, 254, 346, 92, '#101c10', '#90b080');
  insetGlow(p, 295, 72, 26, 14, '#c0a860');
  scaleBar(p, 275, 338, 331);

  p = panel(g, 'g-igg-dapi', X[0], Y[1], W[0], H[1], '#000006');
  nucleus(p, 189, 101, 20, 26); nucleus(p, 224, 281, 23, 29);

  p = panel(g, 'g-igg-wga', X[1], Y[1], W[1], H[1], '#000a02');
  cell(p, 181, 97, 12, 32, '#083a0c', '#1a9a24', .9);
  cell(p, 221, 283, 24, 18, '#073a0c', '#1a9a24', .9);

  p = panel(g, 'g-igg-lamp1', X[2], Y[1], W[2], H[1], '#000');
  cell(p, 186, 97, 20, 30, '#242424', '#909090', .9);
  cell(p, 226, 283, 26, 20, '#222222', '#808080', .9);
  spot(p, 214, 288, 4, 5, '#d0d0d0', 1); spot(p, 238, 288, 4, 5, '#d0d0d0', 1);

  p = panel(g, 'g-igg-anti-ms', X[3], Y[1], W[3], H[1], '#020000');

  p = panel(g, 'g-igg-merge', X[4], Y[1], W[4], H[1], '#000a06');
  glow(p, 190, 100, 22, 34, '#187828', .9);
  glow(p, 225, 280, 32, 24, '#187828', .8);
  nucleus(p, 188, 103, 21, 26); nucleus(p, 223, 277, 24, 24);
  box(p, 181, 277, 220, 317);
  inset(p, 254, 346, 89, '#081c0c', '#70a870');
  insetGlow(p, 315, 30, 24, 22, '#30b048');
  insetGlow(p, 328, 12, 14, 14, '#1850f0');
  scaleBar(p, 275, 338, 325);
})();
</script>
</body>
</html>
